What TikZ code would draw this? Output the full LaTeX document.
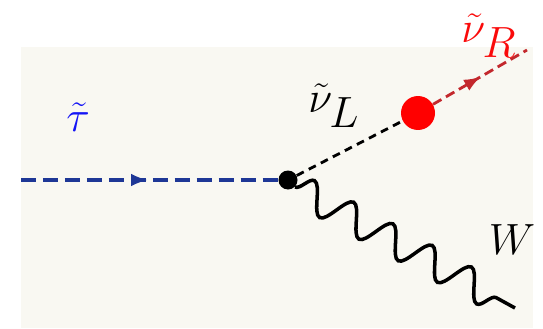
\documentclass[tikz,border=0pt]{standalone}
\usepackage{amsmath}
\usetikzlibrary{arrows.meta,decorations.pathmorphing,decorations.markings}
\definecolor{paper}{RGB}{249,248,242}
\definecolor{stauline}{RGB}{30,55,150}
\definecolor{staulbl}{RGB}{20,20,245}
\definecolor{nurline}{RGB}{195,40,45}
\definecolor{nurlbl}{RGB}{250,10,10}
\newcommand{\bigsym}[1]{\scalebox{1.2}{\huge$#1$}}

\begin{document}
\begin{tikzpicture}[x=0.02cm, y=-0.02cm,
    scalar/.style={dash pattern=on 8.5pt off 4pt, line width=2.2pt},
    midarrow/.style={postaction={decorate, decoration={markings,
        mark=at position #1 with {\arrow[line width=0.6pt]{Latex[length=9pt, width=7pt]}}}}},
    boson/.style={decorate, decoration={snake, segment length=25.5pt, amplitude=8.5pt}, line width=2pt},
    lbl/.style={inner sep=0pt},
]
% frame and background
\useasboundingbox (0,0) rectangle (543,328);
\fill[paper] (21,47) rectangle (533,328);

% vertices
\node[circle, fill=black, minimum size=0.38cm, inner sep=0pt] (vtx) at (288,180) {};
\node[circle, fill=red, minimum size=0.68cm, inner sep=0pt] (blob) at (418,113) {};
\coordinate (tauin) at (21,180);
\coordinate (nurout) at (527,50);
\coordinate (wout) at (515,308);

% lines
\draw[scalar, stauline, midarrow=0.49] (tauin) -- (vtx);
\draw[black, dash pattern=on 4.5pt off 3.2pt, line width=1.6pt] (vtx) -- (blob);
\draw[nurline, dash pattern=on 5.5pt off 3pt, line width=1.6pt, midarrow=0.5] (blob) -- (nurout);
\draw[boson] (vtx.south east) -- (wout);

% labels
\node[lbl, staulbl] (ltau) at (78,117) {\bigsym{\tilde{\tau}}};
\node[lbl] (lnul) at (334,106) {\bigsym{\tilde{\nu}_{\textstyle L}}};
\node[lbl, nurlbl] (lnur) at (489,36) {\bigsym{\tilde{\nu}_{\textstyle R}}};
\node[lbl] (lw) at (512,240) {\bigsym{W}};
\end{tikzpicture}
\end{document}
